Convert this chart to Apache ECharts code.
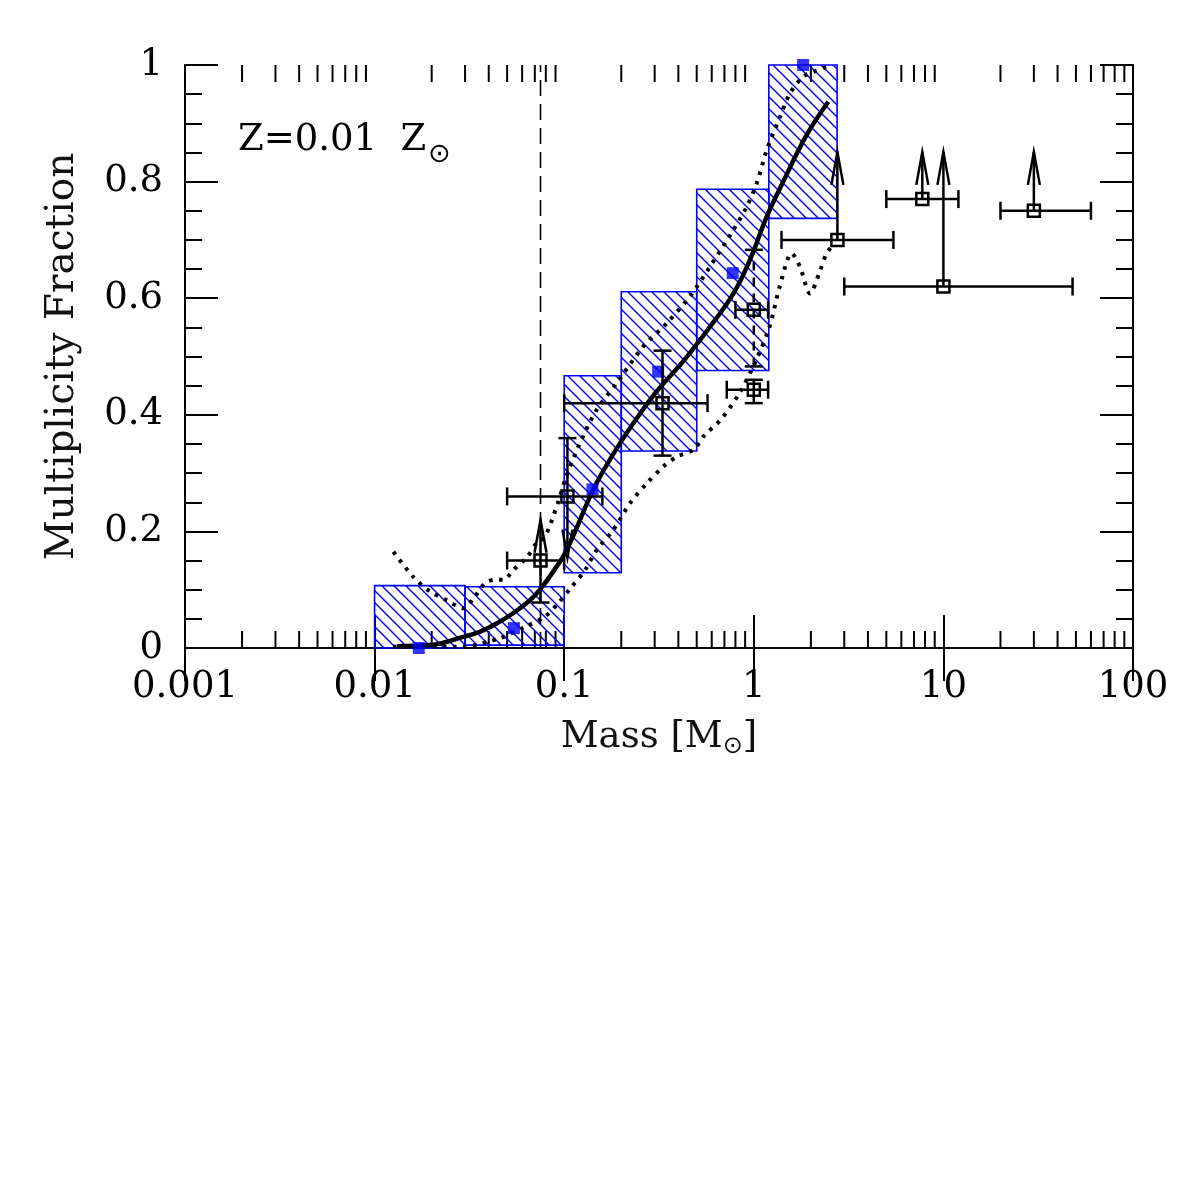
<!DOCTYPE html>
<html>
<head>
<meta charset="utf-8">
<script src="https://cdn.jsdelivr.net/npm/echarts@6/dist/echarts.min.js"></script>
<style>
  html, body { margin: 0; padding: 0; background: #fff; }
  #chart { width: 1196px; height: 1196px; }
</style>
</head>
<body>
<div id="chart"></div>
<script>
  // ---- tick labels ----
  var xTickLabels = ['0.001', '0.01', '0.1', '1', '10', '100']
  var yTickLabels = ['0', '0.2', '0.4', '0.6', '0.8', '1']

  // ---- simulation histogram bins (hatched boxes) ----
  var binLo = [0.01, 0.03, 0.1, 0.2, 0.5, 1.2]
  var binHi = [0.03, 0.1, 0.2, 0.5, 1.2, 2.75]
  var binBottom = [0.0, 0.005, 0.129, 0.338, 0.476, 0.737]
  var binTop = [0.107, 0.105, 0.467, 0.611, 0.787, 1.0]

  // ---- simulation points (blue squares) ----
  var simMass = [0.0171, 0.0543, 0.141, 0.313, 0.774, 1.82]
  var simFrac = [0.0, 0.034, 0.272, 0.474, 0.643, 1.0]

  // ---- fit curve (thick solid) ----
  var fitMass = [0.0131, 0.0196, 0.0294, 0.036, 0.044, 0.054, 0.066, 0.0745, 0.0875, 0.103, 0.137, 0.1545, 0.189, 0.231, 0.307, 0.425, 0.587, 0.78, 0.955, 1.17, 1.43, 1.9, 2.47]
  var fitFrac = [0.003, 0.005, 0.019, 0.028, 0.042, 0.06, 0.082, 0.10, 0.131, 0.168, 0.26, 0.294, 0.342, 0.385, 0.44, 0.492, 0.551, 0.608, 0.666, 0.74, 0.80, 0.88, 0.937]

  // ---- upper dotted curve ----
  var upMass = [0.01256, 0.016, 0.0196, 0.024, 0.0294, 0.0332, 0.0382, 0.0431, 0.0478, 0.054, 0.0634, 0.0716, 0.079, 0.0931, 0.101, 0.1186, 0.148, 0.189, 0.261, 0.347, 0.46, 0.587, 0.78, 0.918, 1.036, 1.17, 1.375, 1.55, 1.82, 2.06, 2.42]
  var upFrac = [0.165, 0.122, 0.097, 0.082, 0.068, 0.085, 0.111, 0.117, 0.117, 0.134, 0.155, 0.18, 0.19, 0.251, 0.288, 0.345, 0.408, 0.454, 0.517, 0.557, 0.603, 0.654, 0.717, 0.757, 0.797, 0.854, 0.911, 0.951, 0.980, 0.988, 0.997]

  // ---- lower dotted curve ----
  var loMass = [0.0125, 0.0196, 0.0292, 0.0458, 0.062, 0.0792, 0.0931, 0.1096, 0.129, 0.148, 0.181, 0.222, 0.272, 0.333, 0.392, 0.48, 0.55, 0.667, 0.84, 1.03, 1.21, 1.37, 1.585, 1.75, 1.98, 2.24, 2.42, 2.6]
  var loFrac = [0.002, 0.002, 0.002, 0.017, 0.036, 0.054, 0.077, 0.105, 0.134, 0.168, 0.202, 0.248, 0.282, 0.311, 0.328, 0.34, 0.365, 0.391, 0.437, 0.494, 0.551, 0.620, 0.677, 0.654, 0.608, 0.648, 0.677, 0.69]

  // ---- hydrogen burning limit (dashed) ----
  var hblMass = [0.075, 0.075]
  var hblFrac = [0, 1]

  // ---- observations (open squares + error bars) ----
  var obsMass = [0.075, 0.104, 0.33, 1.0, 1.0, 2.76, 7.74, 10, 30]
  var obsMassLo = [0.05, 0.05, 0.1, 0.8, 0.72, 1.4, 5.0, 3.0, 20]
  var obsMassHi = [0.1, 0.159, 0.57, 1.19, 1.19, 5.45, 12.0, 48, 60]
  var obsFrac = [0.15, 0.26, 0.42, 0.58, 0.443, 0.70, 0.77, 0.62, 0.75]
  var obsFracLo = [0.078, 0.155, 0.33, 0.483, 0.42, null, null, null, null]
  var obsFracHi = [0.22, 0.36, 0.51, 0.683, 0.46, 0.851, 0.851, 0.851, 0.851]
  var obsLoEnd = ['cap', 'arrow', 'cap', 'cap', 'cap', 'none', 'none', 'none', 'none']
  var obsHiEnd = ['arrow', 'cap', 'cap', 'cap', 'cap', 'arrow', 'arrow', 'arrow', 'arrow']
  var obsDashed = [false, false, false, true, false, false, false, false, false]

  var serif = 'DejaVu Serif'
  var blue = '#0000ff'

  // x minor tick positions 2..9 per decade
  var xMinor = []
  for (var e = -3; e < 2; e++) {
    for (var j = 2; j < 10; j++) xMinor.push(j * Math.pow(10, e))
  }

  function zip(a, b) {
    return a.map(function (v, i) { return [v, b[i]] })
  }

  function seg(x1, y1, x2, y2, w, dash) {
    return {
      type: 'line',
      shape: { x1: x1, y1: y1, x2: x2, y2: y2 },
      style: { stroke: '#000', lineWidth: w || 2.5, lineDash: dash || null }
    }
  }

  //绘制斜线框
  function renderBin(params, api) {
    var i = params.dataIndex
    var p0 = api.coord([binLo[i], binTop[i]])
    var p1 = api.coord([binHi[i], binBottom[i]])
    var x0 = p0[0], y0 = p0[1], w = p1[0] - p0[0], h = p1[1] - p0[1]
    var d = 12
    var kids = []
    var kMin = Math.ceil((y0 - (x0 + w)) / d), kMax = Math.floor((y0 + h - x0) / d)
    for (var k = kMin; k <= kMax; k++) {
      var c = k * d
      var xa = Math.max(x0, y0 - c), xb = Math.min(x0 + w, y0 + h - c)
      if (xb > xa) {
        kids.push({ type: 'line', shape: { x1: xa, y1: xa + c, x2: xb, y2: xb + c },
          style: { stroke: blue, lineWidth: 1.4 } })
      }
    }
    kids.push({ type: 'rect', shape: { x: x0, y: y0, width: w, height: h },
      style: { fill: null, stroke: blue, lineWidth: 1.6 } })
    return { type: 'group', children: kids }
  }

  //观测点 + 误差棒
  function renderObs(params, api) {
    var i = params.dataIndex
    var c = api.coord([obsMass[i], obsFrac[i]])
    var lo = api.coord([obsMassLo[i], obsFrac[i]])
    var hi = api.coord([obsMassHi[i], obsFrac[i]])
    var kids = []
    var cap = 9
    // horizontal bar
    kids.push(seg(lo[0], c[1], hi[0], c[1]))
    kids.push(seg(lo[0], c[1] - cap, lo[0], c[1] + cap))
    kids.push(seg(hi[0], c[1] - cap, hi[0], c[1] + cap))
    // vertical bar
    var dash = obsDashed[i] ? [9, 7] : null
    var top = api.coord([obsMass[i], obsFracHi[i]])
    var bot = obsFracLo[i] == null ? c : api.coord([obsMass[i], obsFracLo[i]])
    kids.push(seg(c[0], bot[1], c[0], top[1], 2.5, dash))
    if (obsHiEnd[i] === 'cap') kids.push(seg(c[0] - cap, top[1], c[0] + cap, top[1]))
    if (obsHiEnd[i] === 'arrow') {
      kids.push({ type: 'polyline', shape: { points: [[c[0] - 6, top[1] + 33], [c[0], top[1]], [c[0] + 6, top[1] + 33]] },
        style: { stroke: '#000', lineWidth: 2.5, fill: null } })
    }
    if (obsLoEnd[i] === 'cap') kids.push(seg(c[0] - cap, bot[1], c[0] + cap, bot[1]))
    if (obsLoEnd[i] === 'arrow') {
      kids.push({ type: 'polyline', shape: { points: [[c[0] - 5, bot[1] - 28], [c[0], bot[1]], [c[0] + 5, bot[1] - 28]] },
        style: { stroke: '#000', lineWidth: 2.5, fill: null } })
    }
    // open square
    kids.push({ type: 'rect', shape: { x: c[0] - 6, y: c[1] - 6, width: 12, height: 12 },
      style: { fill: null, stroke: '#000', lineWidth: 2.5 } })
    return { type: 'group', children: kids }
  }

  //x轴次刻度
  function renderMinor(params, api) {
    var v = xMinor[params.dataIndex]
    var b = api.coord([v, 0])
    var t = api.coord([v, 1])
    return {
      type: 'group',
      children: [seg(b[0], b[1], b[0], b[1] - 17, 2), seg(t[0], t[1], t[0], t[1] + 17, 2)]
    }
  }

  var axisLineStyle = { color: '#000', width: 2 }

  var chart = echarts.init(document.getElementById('chart'), null, { renderer: 'canvas' })
  chart.setOption({
    animation: false,
    backgroundColor: '#fff',
    title: {
      text: '{m|Z=0.01  Z}{s|⊙}',
      left: 238,
      top: 112,
      padding: 0,
      textStyle: {
        fontWeight: 'normal',
        rich: {
          m: { fontFamily: serif, fontSize: 37, fontWeight: 'normal', color: '#000', lineHeight: 56 },
          s: { fontFamily: 'DejaVu Sans', fontSize: 27, fontWeight: 'normal', color: '#000', lineHeight: 26, verticalAlign: 'bottom', padding: [0, 0, 0, 2] }
        }
      }
    },
    grid: { left: 185, right: 63, top: 65, bottom: 548, containLabel: false, outerBoundsMode: 'none' },
    xAxis: [
      {
        type: 'log', logBase: 10, min: 0.001, max: 100, position: 'bottom',
        name: '{m|Mass [M}{s|⊙}{m|]}',
        nameLocation: 'middle',
        nameGap: 67,
        nameMoveOverlap: false,
        nameTextStyle: {
          rich: {
            m: { fontFamily: serif, fontSize: 37, color: '#111', lineHeight: 44 },
            s: { fontFamily: 'DejaVu Sans', fontSize: 24, color: '#111', lineHeight: 22, verticalAlign: 'bottom' }
          }
        },
        axisLine: { show: true, lineStyle: axisLineStyle },
        axisTick: { show: true, inside: true, length: 33, lineStyle: { color: '#000', width: 2 } },
        axisLabel: {
          show: true, margin: 21, color: '#000', fontFamily: serif, fontSize: 37,
          formatter: function (v) { return xTickLabels[Math.round(Math.log10(v)) + 3] }
        },
        splitLine: { show: false }
      },
      {
        type: 'log', logBase: 10, min: 0.001, max: 100, position: 'top',
        axisLine: { show: true, lineStyle: axisLineStyle },
        axisTick: { show: true, inside: true, length: 33, lineStyle: { color: '#000', width: 2 } },
        axisLabel: { show: false },
        splitLine: { show: false }
      }
    ],
    yAxis: [
      {
        type: 'value', min: 0, max: 1, interval: 0.2, position: 'left',
        name: 'Multiplicity Fraction',
        nameLocation: 'middle',
        nameRotate: 90,
        nameGap: 103,
        nameMoveOverlap: false,
        nameTextStyle: { fontFamily: serif, fontSize: 39, color: '#111' },
        axisLine: { show: true, lineStyle: axisLineStyle },
        axisTick: { show: true, inside: true, length: 33, lineStyle: { color: '#000', width: 2 } },
        minorTick: { show: true, splitNumber: 4, length: 17, lineStyle: { color: '#000', width: 2 } },
        axisLabel: {
          show: true, margin: 22, color: '#000', fontFamily: serif, fontSize: 37,
          formatter: function (v) { return yTickLabels[Math.round(v * 5)] }
        },
        splitLine: { show: false }
      },
      {
        type: 'value', min: 0, max: 1, interval: 0.2, position: 'right',
        axisLine: { show: true, lineStyle: axisLineStyle },
        axisTick: { show: true, inside: true, length: 33, lineStyle: { color: '#000', width: 2 } },
        minorTick: { show: true, splitNumber: 4, length: 17, lineStyle: { color: '#000', width: 2 } },
        axisLabel: { show: false },
        splitLine: { show: false }
      }
    ],
    series: [
      {
        type: 'custom', name: 'minor', z: 1,
        renderItem: renderMinor,
        encode: { x: 0, y: 1 },
        data: xMinor.map(function (v) { return [v, 0] })
      },
      {
        type: 'custom', name: 'bins', z: 2,
        renderItem: renderBin,
        encode: { x: 0, y: 1 },
        data: binLo.map(function (v, i) { return [v, binBottom[i]] })
      },
      {
        type: 'line', name: 'hbl', z: 3, symbol: 'none',
        lineStyle: { color: '#000', width: 1.6, type: [16, 8] },
        data: zip(hblMass, hblFrac)
      },
      {
        type: 'line', name: 'upper', z: 4, symbol: 'none', smooth: 0.3,
        lineStyle: { color: '#000', width: 4, type: [3.5, 6.5] },
        data: zip(upMass, upFrac)
      },
      {
        type: 'line', name: 'lower', z: 4, symbol: 'none', smooth: 0.3,
        lineStyle: { color: '#000', width: 4, type: [3.5, 6.5] },
        data: zip(loMass, loFrac)
      },
      {
        type: 'line', name: 'fit', z: 5, symbol: 'none', smooth: 0.4,
        lineStyle: { color: '#000', width: 4.5 },
        data: zip(fitMass, fitFrac)
      },
      {
        type: 'scatter', name: 'sim', z: 6, symbol: 'rect', symbolSize: 12, clip: false,
        itemStyle: { color: blue },
        data: zip(simMass, simFrac)
      },
      {
        type: 'custom', name: 'obs', z: 7,
        renderItem: renderObs,
        encode: { x: 0, y: 1 },
        data: zip(obsMass, obsFrac)
      }
    ]
  })
</script>
</body>
</html>
